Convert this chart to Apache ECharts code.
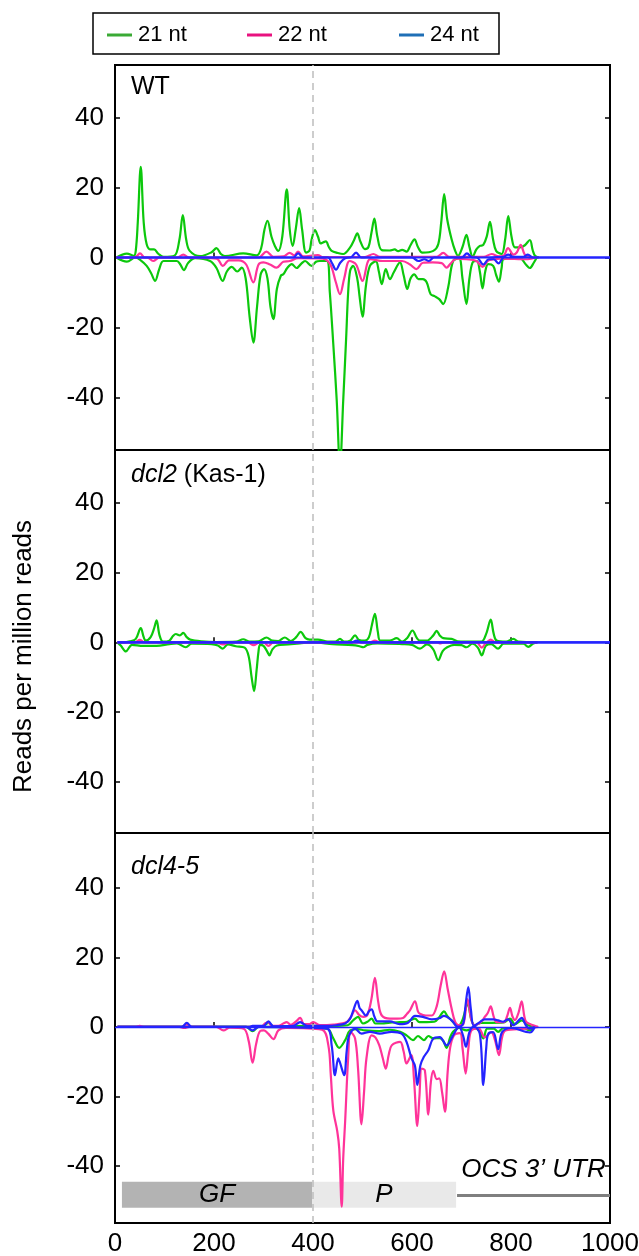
<!DOCTYPE html>
<html><head><meta charset="utf-8">
<script src="https://cdn.jsdelivr.net/npm/echarts@6/dist/echarts.min.js"></script>
<style>html,body{margin:0;padding:0;background:#fff}#c{width:639px;height:1256px}</style>
</head><body><div id="c"></div>
<script>
// ---- data ----
const xTicks = [0, 200, 400, 600, 800, 1000];
const yTicks = [-40, -20, 0, 20, 40];
const sizeNames = ['21 nt', '22 nt', '24 nt'];
const panelTitles = ['WT', '{i|dcl2} (Kas-1)', '{i|dcl4-5}'];

// WT
const wt21s = [[3,0],[24,1.1],[38,0.5],[42,2],[46,10],[52,25.9],[58,10],[64,3.8],[72,2.3],[79,2.3],[88,1],[98,0.2],[120,0.5],[130,5],[137,12.1],[144,5],[151,1.9],[172,0.4],[195,1.5],[205,2.7],[214,1],[222,0.4],[259,1.2],[286,0.6],[295,2.5],[302,8],[308,10.5],[316,6],[323,3.3],[330,1.9],[338,6],[347,19.5],[353,8],[359,3.3],[365,8],[372,14.1],[378,8],[386,1.4],[393,2],[397,5],[404,7.8],[410,6],[415.5,4],[420,4.3],[426,4.6],[432,3],[437.7,1.9],[450,1.3],[461,1],[475,2.9],[483,5],[489.5,6.9],[496,4.5],[505,2.4],[512,3],[518,7],[524,11.1],[530,6],[539,2.1],[555,2],[565,2.3],[572,1.8],[580,2.2],[589,1.7],[597,3.5],[605,5.2],[612,3],[621,1.4],[643,1.9],[653,3.8],[659,10],[665,18.1],[671,11],[680,5.2],[687,2],[693,0.5],[702,3],[710,6.5],[716,3],[722.5,0.2],[730,2.3],[737,3.3],[744,3.6],[751,6],[757.5,10.2],[764,5],[770,1.9],[781,1],[788,5],[794.5,11.8],[801,6],[808,2.9],[818,2.9],[828,3.5],[838,5],[844,2],[848.5,0.5],[856,0]];
const wt21a = [[3,0],[24,-1.2],[41,0],[52,-0.8],[64,-2.4],[73,-4.5],[81,-6.7],[89,-3.5],[98,-1],[125,-1],[132,-2],[139,-3.6],[148,-1.5],[162,-0.2],[192,-1],[205,-3],[217.5,-6.7],[226,-4],[236,-2.7],[247,-4],[256,-2.9],[264,-6],[272,-17],[279.5,-24.3],[287,-14],[294,-5],[301,-3.3],[308,-6],[314,-14],[320,-17.6],[327,-9],[335,-5.2],[340,-4.8],[348,-3],[357,-1.9],[367,-3],[376,-1.8],[384,-1],[397,-2.4],[406,-1.2],[414,-1],[428,-1],[434,-10],[441,-24.8],[448,-41],[454.5,-60],[461,-41],[467,-22.9],[471,-10],[475,-3.8],[481,-2.4],[489,-5.7],[494,-11],[500,-16.9],[507,-8],[515,-2.4],[527,-1.1],[533,-4],[539,-7.6],[547,-3.3],[555.5,-6.2],[563,-4.3],[575.7,-1.4],[583,-5],[590.5,-9],[597,-6],[604.7,-4.8],[613,-6.2],[622,-6.2],[629.6,-7.1],[637.7,-10.5],[646.5,-11.1],[655,-11.9],[663,-13.3],[673,-8.6],[683,-1],[695,-0.2],[702,-6],[710,-13.3],[716,-6],[722.5,-1.4],[731,-1],[737,-4],[742.5,-8.8],[748,-4],[754,-1.9],[764,-2.4],[770,-5],[775.7,-6.9],[781,-3],[785,-0.5],[818,-0.2],[830,-2],[838,-3],[846,-1.5],[852,0]];
const wt22s = [[3,0],[40,0],[50.5,1.2],[60,0],[125,0],[138,0.8],[150,0],[290,0],[306,1.7],[320,0.2],[340,0.3],[353,1.3],[362,0.6],[370,1.7],[380,0.3],[410,0.7],[420,0.1],[505,0.1],[522,1],[535,0.2],[650,0.2],[663,1.3],[675,0.2],[745,0.2],[761,1],[775,0.3],[785,0.5],[794,2.7],[805,0.8],[812,1.5],[819.5,3.6],[828,0.8],[840,0],[856,0]];
const wt22a = [[3,0],[65,0],[77,-1],[90,0],[205,-0.3],[218,-2.4],[230,-0.8],[250,-0.8],[265,-2],[279.5,-7.1],[290,-2],[300,-1.4],[313,-2],[326.6,-2.9],[340,-1.2],[353,-1],[370,-0.2],[420,-0.3],[435,-2],[446,-7],[454.5,-10.5],[463,-6],[474,-1],[487,-2],[500,-6.7],[510,-1.5],[515,-0.5],[541,-1],[580,-1],[596,-2],[609,-3.3],[622,-1.5],[642,-1.4],[660,-1.6],[670,-2.9],[677,-1.9],[690,-0.3],[710,-0.5],[730,-1],[742.5,-2.7],[755,-0.8],[780,-0.3],[834,-0.5],[850,0]];
const wt24s = [[3,0],[360,0],[370,1.2],[380,0],[475,0],[487,1.4],[498,0],[700,0],[711,1.2],[722,0],[785,0.2],[794,0.8],[805,0.2],[825,0.2],[834,0.8],[845,0],[1000,0]];
const wt24a = [[3,0],[430,0],[438,-1.5],[446.5,-3.5],[455,-1.5],[465,-0.2],[475,0],[600,0],[613,-1],[625,-0.5],[634,-1],[645,0],[730,0],[744,-2],[755,-0.5],[765,-0.5],[775,-1.7],[786,0],[1000,0]];

// dcl2 (Kas-1)
const d2_21s = [[5,0],[17,0],[30,0.3],[42,1],[52,4.1],[58,1.5],[62,0.5],[72,1.5],[79,4],[84,6.3],[90,2],[97,0.2],[110,0.5],[117,1.8],[123,2.4],[131,2],[138,2.7],[145,1.5],[152,0.8],[175,0.3],[205,0.1],[245,0.2],[259,0.9],[272,0.2],[290,0.3],[306,1.4],[318,0.5],[330,0.4],[343,1.4],[355,0.4],[366,1.5],[375,3],[385,1.2],[393,0.8],[410,0.8],[430,0.2],[445,0.2],[454.5,1],[463,0.2],[475,0.5],[485,2],[493,0.7],[505,0.5],[513,1.5],[519,5],[525,8.2],[531,3],[536,0.5],[555,0.5],[569,1.2],[580,0.2],[590,1.2],[601,3.4],[610,1.2],[616,0.5],[630,0.5],[643,2],[649.7,3.3],[656,2],[663,1.2],[680,1],[692,0.3],[708,0.2],[740,0.2],[750,2.5],[759,6.5],[765,2.5],[771,0.5],[790,0.2],[805,1],[815,0.2],[853,0]];
const d2_21a = [[5,0],[12,-1],[22,-2.6],[30,-1.2],[34,-0.7],[57,-1],[84,-1],[110,-0.5],[125,-0.3],[143,-1.4],[155,-0.4],[195,-0.5],[208,-0.9],[217.5,-1.8],[228,-0.6],[244,-1.1],[262,-1.5],[270,-4],[276,-10],[281,-14],[286,-8],[290,-2.5],[293,-0.7],[300,-1],[307,-2.5],[312,-3.7],[318,-2],[327,-0.9],[350,-0.6],[373,-0.3],[400,0],[440,-0.5],[480,-0.8],[494,-1.1],[501.6,-1.4],[510,-0.7],[530,-0.3],[580,-0.5],[600,-0.7],[616,-1.8],[630,-0.6],[643,-2],[653,-5.1],[662,-2.5],[671,-1.4],[685,-0.7],[700,-0.8],[710,-1.4],[722,-0.4],[733,-1.5],[741,-3.7],[749,-1],[760,-0.5],[774,-1.8],[785,-0.4],[825,-0.4],[835,-1.3],[845,-0.3],[853,0]];
const d2_22s = [[5,0],[40,0],[50,0.7],[60,0],[515,0],[525,0.5],[535,0],[750,0],[759,0.8],[768,0],[853,0]];
const d2_22a = [[5,0],[205,0],[218,-0.6],[230,0],[268,0],[280,-0.8],[292,0],[300,0],[310,-1],[320,0],[650,0],[656,-0.3],[665,0],[730,0],[741,-1.5],[752,0],[853,0]];
const d2_24s = [[5,0],[478,0],[488,0.5],[498,0],[1000,0]];
const d2_24a = [[5,0],[1000,0]];

// dcl4-5
const d4_21s = [[5,0],[270,0],[278,0],[300,0.3],[310,1.2],[320,0.2],[400,0.3],[440,0.3],[470,0.5],[481,1.9],[491,2.9],[501,1],[510,1.5],[518.5,2.4],[526,1],[540,1],[552,1.2],[575,1.4],[590,1.5],[596,1.9],[606,2.4],[615,1.4],[630,1.4],[645,1.5],[655,2.8],[664.6,4.5],[672,3],[680,1.9],[693,0.2],[702,2],[712.5,6.7],[720,2],[727,0.5],[740,1.2],[760,1.2],[785,1.3],[798,2.4],[808,0.8],[821.5,1.9],[835,0.5],[848,0]];
const d4_21a = [[5,0],[265,0],[278,-1.2],[290,0],[428,-0.5],[441,-3.3],[453,-6],[465,-3.8],[475,-1],[490,-0.6],[505,-1],[534,-1.2],[555,-0.8],[576,-1.4],[589,-2.4],[602,-3.8],[612,-2.6],[624,-3.8],[633,-2.6],[643,-3.3],[656,-3.2],[663,-4],[670,-6],[677,-3],[683,-1.4],[695,-0.3],[710,-1],[725,-0.3],[735,-1],[744,-3.3],[752,-0.5],[765,-0.5],[774,-1.4],[785,-0.3],[825,-0.3],[838,-1],[848,0]];
const d4_22s = [[5,0],[40,0],[50,0.3],[60,0],[135,0],[145,0.7],[155,0],[295,0],[303,1],[310,1.4],[316,0.3],[330,0.3],[340,1],[347,1.4],[355,0.6],[365,1.5],[374,2.6],[382,0.8],[392,0.8],[400.6,1.4],[414,0.5],[441,0.7],[468,1.4],[477,3],[485,4.8],[493,3.5],[501.6,2.9],[510,3.5],[518,8],[525,14.1],[532,7],[539,3.3],[555.5,2.4],[570,2.4],[582,2.6],[590,3.8],[596,4.8],[606,7.4],[612,4.5],[616,3.8],[628,3.3],[640,3.3],[650,6],[658,12],[665,16],[672,11],[680,5.3],[687,1.5],[693.5,0.5],[703.5,0.8],[712,8],[720,2],[727,0.5],[740,1.5],[747,2.9],[753,4],[759,5.9],[765,3],[771,1.4],[786,1.4],[792,3],[798,5.5],[803,3],[808,2],[815,4],[821.5,7.4],[827,3],[831,1.4],[845,0.5],[855,0]];
const d4_22a = [[5,0],[130,0],[140,-0.3],[150,0],[205,0],[219,-1],[232,-0.2],[260,-0.5],[270,-4],[278,-10.3],[285,-5],[293,-1.2],[301,-1],[310,-2],[320,-3.5],[330,-1],[345,-0.3],[418,-0.8],[431,-5.3],[436,-14],[441,-24],[449,-30],[453,-35],[458,-51.7],[461,-38],[465,-27],[471,-9],[476,-1.4],[485,-3.3],[491,-12],[498,-28],[503,-19],[508,-9],[518.5,-2.4],[526,-3],[534,-5.3],[541,-9],[547,-12],[553,-8],[559,-5.3],[576,-4.3],[583,-7],[589,-10.5],[598.6,-8.1],[604,-15],[610.7,-28.5],[615,-20],[619.6,-12],[626,-12.5],[633,-25.2],[638,-16],[643,-12.6],[650,-15],[655,-14.8],[661,-19],[666.6,-24.4],[672,-13],[677,-6],[684.8,-2.4],[697,-1.8],[702,-6],[708.4,-13.4],[714,-6],[720,-1],[735,-0.5],[747,-3],[760,-1.5],[768,-4],[775.7,-8.1],[782,-3],[789,-1],[830,-0.5],[855,0]];
const d4_24s = [[5,0],[135,0],[145,1.2],[155,0],[270,0],[278,0.3],[300,0.3],[310,1.6],[320,0.2],[360,0.3],[374,1.4],[388,0.3],[430,0.3],[447,0.5],[465,1],[475,2.4],[482,5],[489.5,7.5],[494,5.5],[498,4.8],[507,3.3],[513,4.5],[518.5,5.1],[524,3],[530,1.6],[555,1.6],[575,0.8],[592,1.2],[606,3.2],[622,2.9],[640,2.2],[655,2.5],[664.6,3.2],[680,1.9],[693,0],[703,0.8],[708,6],[713.7,11.5],[719,5],[725,0.3],[737,1.4],[747,2.2],[764,2.2],[774,1.9],[784,1.5],[794,2.2],[805,0.5],[813,1.5],[821.5,2.6],[830,0.5],[838,-0.5],[848,0]];
const d4_24a = [[5,0],[265,0],[278,-1],[290,0],[428,-0.5],[437.7,-5.3],[444.4,-13.9],[451,-9],[455,-10.5],[463,-13.9],[468,-7],[473,-2.4],[485,-0.5],[498,-1.9],[515,-1.4],[535,-1.9],[559,-1.4],[579,-1.9],[589,-4.3],[599,-9],[606,-11.2],[610.7,-16.7],[617,-11],[624,-8.6],[633,-6.7],[643,-3.3],[656,-2.9],[670,-5.3],[683,-2.4],[695,0],[703,-2.4],[709,-5.7],[716,-1.5],[725,0.2],[737,-2],[744,-16.7],[750,-6],[754,-2],[764,-1.5],[774,-6.4],[782,-1.5],[800,-0.3],[838,-1.6],[848,0]];

// gene-structure annotation (x from, x to, label)
const regionGF = [14, 398, 'GF'];
const regionP = [398, 689, 'P'];
const regionUTR = [691, 1000, 'OCS 3\u2019 UTR'];

const panels = [
  {title: panelTitles[0], s21: wt21s, a21: wt21a, s22: wt22s, a22: wt22a, s24: wt24s, a24: wt24a},
  {title: panelTitles[1], s21: d2_21s, a21: d2_21a, s22: d2_22s, a22: d2_22a, s24: d2_24s, a24: d2_24a},
  {title: panelTitles[2], s21: d4_21s, a21: d4_21a, s22: d4_22s, a22: d4_22a, s24: d4_24s, a24: d4_24a}
];

// ---- style ----
const FONT = 'Liberation Sans, Arial, Helvetica, sans-serif';
const FS = 26;
const lineColors = ['#0cc80c', '#ff3399', '#2424ff'];
const legendColors = ['#3aaa35', '#e8127f', '#1f6fb6'];
const grids = [
  {left: 115, right: 29, top: 65, height: 385},
  {left: 115, right: 29, top: 450, height: 383},
  {left: 115, right: 29, top: 833, height: 390}
];
const yRanges = [[-55, 55], [-54.6, 55.1], [-56.4, 55.8]];

const chart = echarts.init(document.getElementById('c'), null, {renderer: 'canvas'});

const xAxes = [], yAxes = [], series = [], titles = [];
grids.forEach((g, i) => {
  xAxes.push({
    gridIndex: i, type: 'value', min: 0, max: 1000,
    axisLine: {show: false},
    axisTick: {show: true, inside: true, length: 5, customValues: [200, 400, 600, 800], lineStyle: {color: '#000', width: 1.5}},
    axisLabel: {show: i === 2, customValues: xTicks, formatter: v => String(v), fontSize: FS, color: '#000', fontFamily: FONT, margin: 8, hideOverlap: false},
    splitLine: {show: false}
  });
  ['left', 'right'].forEach(pos => {
    yAxes.push({
      gridIndex: i, type: 'value', position: pos, min: yRanges[i][0], max: yRanges[i][1],
      axisLine: {show: false},
      axisTick: {show: true, inside: true, length: 5, customValues: yTicks, lineStyle: {color: '#000', width: 1.5}},
      axisLabel: {show: pos === 'left', customValues: yTicks, formatter: v => String(v), fontSize: FS, color: '#000', fontFamily: FONT, margin: 11},
      splitLine: {show: false},
      name: (pos === 'left' && i === 1) ? 'Reads per million reads' : '',
      nameLocation: 'middle', nameRotate: 90, nameGap: 78,
      nameTextStyle: {fontSize: FS, color: '#000', fontFamily: FONT, padding: [0, 30, 0, 0]}
    });
  });
  const p = panels[i];
  const pairs = [[p.s21, p.a21], [p.s22, p.a22], [p.s24, p.a24]];
  pairs.forEach((pr, k) => {
    pr.forEach((d, j) => {
      const s = {
        type: 'line', name: sizeNames[k], data: d, xAxisIndex: i, yAxisIndex: i * 2,
        smooth: 0.35, symbol: 'none', showSymbol: false, clip: true, silent: true,
        lineStyle: {color: lineColors[k], width: 2.2}, itemStyle: {color: lineColors[k]},
        z: 2 + k
      };
      if (k === 0 && j === 0) {
        s.markLine = {
          silent: true, symbol: 'none', animation: false,
          label: {show: false},
          lineStyle: {color: '#bdbdbd', type: [7, 5], width: 1.5},
          data: [{xAxis: 400}]
        };
      }
      series.push(s);
    });
  });
  titles.push({
    text: p.title, left: 131, top: [75, 463, 855][i], padding: 0,
    textStyle: {fontSize: 25, fontWeight: 'normal', color: '#000', fontFamily: FONT,
      rich: {i: {fontSize: 25, fontStyle: 'italic', color: '#000', fontFamily: FONT}}}
  });
});

// thin zero line + annotation in bottom panel
series.push({
  type: 'line', name: 'annot', data: [], xAxisIndex: 2, yAxisIndex: 4, silent: true, z: 10,
  markArea: {
    silent: true,
    label: {show: true, position: 'inside', fontSize: FS, fontStyle: 'italic', color: '#000', fontFamily: FONT},
    data: [
      [{name: regionGF[2], xAxis: regionGF[0], yAxis: -44.5, itemStyle: {color: 'rgba(150,150,150,0.72)'}}, {xAxis: regionGF[1], yAxis: -52}],
      [{name: regionP[2], xAxis: regionP[0], yAxis: -44.5, itemStyle: {color: 'rgba(222,222,222,0.68)'}}, {xAxis: regionP[1], yAxis: -52}]
    ]
  },
  markLine: {
    silent: true, symbol: 'none',
    data: [
      [{name: regionUTR[2], coord: [regionUTR[0], -48.3], lineStyle: {color: '#7f7f7f', width: 3, type: 'solid'},
        label: {show: true, formatter: '{b}', position: 'middle', distance: 12, fontSize: FS, fontStyle: 'italic', color: '#000', fontFamily: FONT}},
       {coord: [regionUTR[1], -48.3]}],
      [{name: 'zero', coord: [0, 0], lineStyle: {color: '#2424ff', width: 1.3, type: 'solid'}, label: {show: false}},
       {coord: [1000, 0]}]
    ]
  }
});

const legends = sizeNames.map((n, k) => ({
  data: [{name: n, itemStyle: {color: legendColors[k]}}],
  icon: 'rect',
  left: [107, 247, 399][k], top: 24, padding: 0,
  itemWidth: 25, itemHeight: 3, itemGap: 6,
  selectedMode: false,
  textStyle: {fontSize: 22, color: '#000', fontFamily: FONT, padding: [0, 0, 0, 1]}
}));

chart.setOption({
  animation: false,
  backgroundColor: '#fff',
  title: titles,
  legend: legends,
  grid: grids.map(g => Object.assign({show: true, borderColor: '#000', borderWidth: 2, backgroundColor: 'transparent', outerBoundsMode: 'none', containLabel: false}, g)),
  xAxis: xAxes,
  yAxis: yAxes,
  series: series,
  graphic: [{type: 'rect', shape: {x: 93, y: 13, width: 406, height: 41}, style: {fill: 'none', stroke: '#000', lineWidth: 1.5}, silent: true}]
});
</script>
</body></html>
